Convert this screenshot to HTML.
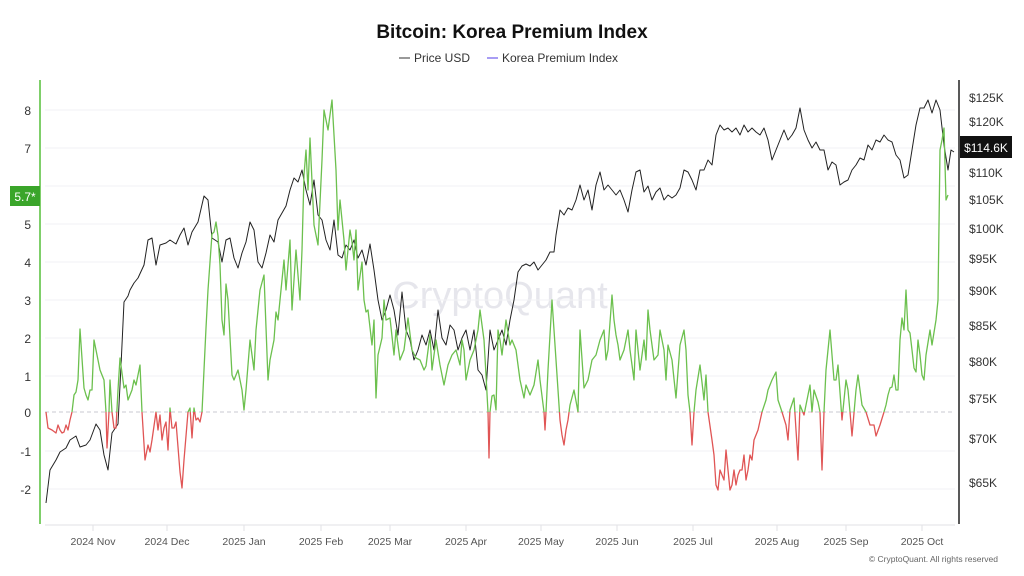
<!DOCTYPE html>
<html><head><meta charset="utf-8"><style>
html,body{margin:0;padding:0;background:#fff;width:1024px;height:576px;overflow:hidden;font-family:"Liberation Sans",sans-serif}
</style></head><body>
<svg width="1024" height="576" viewBox="0 0 1024 576" xmlns="http://www.w3.org/2000/svg" font-family="Liberation Sans, sans-serif">
<defs>
<clipPath id="above"><rect x="40" y="0" width="920" height="412"/></clipPath>
<clipPath id="below"><rect x="40" y="412" width="920" height="120"/></clipPath>
</defs>
<text x="512" y="38" text-anchor="middle" font-size="19" font-weight="bold" fill="#111">Bitcoin: Korea Premium Index</text>
<line x1="399" y1="58" x2="410" y2="58" stroke="#333" stroke-width="1"/>
<text x="414" y="62" font-size="12" fill="#333">Price USD</text>
<line x1="487" y1="58" x2="498" y2="58" stroke="#8a7cf0" stroke-width="1.5"/>
<text x="502" y="62" font-size="12" fill="#333">Korea Premium Index</text>
<text x="500" y="308" text-anchor="middle" font-size="38" fill="#e6e6ec">CryptoQuant</text>
<g stroke="#f1f1f4" stroke-width="1">
<line x1="45" y1="110" x2="955" y2="110"/><line x1="45" y1="148" x2="955" y2="148"/><line x1="45" y1="186" x2="955" y2="186"/><line x1="45" y1="224" x2="955" y2="224"/><line x1="45" y1="262" x2="955" y2="262"/><line x1="45" y1="300" x2="955" y2="300"/><line x1="45" y1="338" x2="955" y2="338"/><line x1="45" y1="376" x2="955" y2="376"/><line x1="45" y1="451" x2="955" y2="451"/><line x1="45" y1="489" x2="955" y2="489"/>
</g>
<line x1="45" y1="412" x2="955" y2="412" stroke="#c8c8d2" stroke-dasharray="4,3" stroke-width="1"/>
<g font-size="12" fill="#333" text-anchor="end">
<text x="31" y="115">8</text><text x="31" y="153">7</text><text x="31" y="229">5</text><text x="31" y="267">4</text><text x="31" y="305">3</text><text x="31" y="343">2</text><text x="31" y="381">1</text><text x="31" y="417">0</text><text x="31" y="456">-1</text><text x="31" y="494">-2</text>
</g>
<g font-size="12" fill="#333">
<text x="969" y="102">$125K</text><text x="969" y="126">$120K</text><text x="969" y="177">$110K</text><text x="969" y="204">$105K</text><text x="969" y="233">$100K</text><text x="969" y="263">$95K</text><text x="969" y="295">$90K</text><text x="969" y="330">$85K</text><text x="969" y="366">$80K</text><text x="969" y="403">$75K</text><text x="969" y="443">$70K</text><text x="969" y="487">$65K</text>
</g>
<line x1="40" y1="80" x2="40" y2="524" stroke="#7fcf6a" stroke-width="2"/>
<line x1="959" y1="80" x2="959" y2="524" stroke="#222" stroke-width="1.5"/>
<line x1="45" y1="525" x2="955" y2="525" stroke="#e2e2e6" stroke-width="1"/>
<g stroke="#e2e2e6"><line x1="93" y1="525" x2="93" y2="531"/><line x1="167" y1="525" x2="167" y2="531"/><line x1="244" y1="525" x2="244" y2="531"/><line x1="321" y1="525" x2="321" y2="531"/><line x1="390" y1="525" x2="390" y2="531"/><line x1="466" y1="525" x2="466" y2="531"/><line x1="541" y1="525" x2="541" y2="531"/><line x1="617" y1="525" x2="617" y2="531"/><line x1="693" y1="525" x2="693" y2="531"/><line x1="777" y1="525" x2="777" y2="531"/><line x1="846" y1="525" x2="846" y2="531"/><line x1="922" y1="525" x2="922" y2="531"/></g>
<g font-size="10.5" fill="#555" text-anchor="middle">
<text x="93" y="545">2024 Nov</text><text x="167" y="545">2024 Dec</text><text x="244" y="545">2025 Jan</text><text x="321" y="545">2025 Feb</text><text x="390" y="545">2025 Mar</text><text x="466" y="545">2025 Apr</text><text x="541" y="545">2025 May</text><text x="617" y="545">2025 Jun</text><text x="693" y="545">2025 Jul</text><text x="777" y="545">2025 Aug</text><text x="846" y="545">2025 Sep</text><text x="922" y="545">2025 Oct</text>
</g>
<text x="998" y="562" text-anchor="end" font-size="8.5" fill="#666">© CryptoQuant. All rights reserved</text>
<polyline fill="none" stroke="#222" stroke-width="1" stroke-linejoin="round" points="46,503 50,470 56,460 60,452 66,448 70,440 76,436 80,447 86,445 90,440 96,424 100,430 104,455 108,470 112,433 118,424 121,366 124,302 128,296 130,290 134,283 138,278 144,265 148,240 152,238 156,265 160,245 166,243 170,240 176,244 180,235 184,228 188,245 192,232 198,222 204,196 208,200 212,238 218,242 222,262 226,240 230,238 234,258 238,268 242,253 246,242 250,222 254,230 258,262 262,268 266,253 270,235 274,242 278,220 282,213 286,206 290,190 294,178 298,182 302,170 306,190 310,205 314,180 318,215 322,220 326,240 330,250 334,220 338,255 342,258 346,245 350,250 354,240 358,258 362,250 366,265 370,244 374,270 378,300 382,320 386,310 390,295 394,310 398,335 402,292 406,330 410,340 414,360 418,350 422,335 426,345 430,330 434,350 438,310 442,338 446,345 450,325 454,330 458,350 462,338 466,330 470,350 474,330 478,370 482,375 486,390 490,330 494,350 498,340 502,330 506,345 510,320 514,300 518,272 522,266 526,264 530,266 534,262 538,270 542,265 546,260 550,252 554,252 556,235 560,210 564,215 568,208 572,210 576,200 580,185 584,200 588,190 592,210 596,185 600,172 604,190 608,185 612,190 616,195 620,190 624,200 628,212 632,190 636,172 640,170 644,192 648,186 652,200 656,192 660,188 664,200 668,195 672,198 676,195 680,188 684,170 688,172 692,180 696,190 700,170 704,170 708,160 712,165 716,135 720,125 724,130 728,128 732,132 736,128 740,135 744,125 748,132 752,128 756,132 760,135 764,128 768,140 772,160 776,150 780,140 784,130 788,140 792,135 796,128 800,108 804,130 808,140 812,148 816,142 820,150 824,150 828,170 832,162 836,165 840,185 844,182 848,180 852,170 856,165 860,158 864,160 868,145 872,150 876,140 880,142 884,135 888,140 892,142 896,155 900,160 904,178 908,175 912,150 916,125 920,108 924,108 928,100 932,113 936,100 940,110 944,145 948,170 951,150 954,152"/>
<g id="prem">
<polyline id="pl" fill="none" stroke-width="1.3" stroke-linejoin="round" points="46,412 48,428 52,430 56,433 58,425 60,430 62,433 64,432 66,425 68,430 70,420 72,412 74,395 76,392 78,380 80,329 84,388 86,395 88,400 90,390 92,390 94,340 98,360 100,370 102,375 104,380 106,412 107,448 109,412 110,380 112,412 114,428 116,428 118,390 120,358 124,388 126,385 128,400 132,390 134,380 136,385 140,365 142,412 145,460 148,445 150,452 152,440 156,412 158,430 160,415 162,440 164,428 166,422 168,450 170,408 172,428 174,428 176,422 180,472 182,488 184,460 188,412 190,408 192,438 194,408 196,420 198,418 200,422 202,412 206,328 208,290 212,234 214,232 216,222 218,236 220,265 222,320 224,335 226,284 228,300 232,375 234,380 238,370 242,390 244,410 246,390 250,340 254,370 256,330 258,310 260,290 264,275 268,380 270,360 274,340 276,312 278,320 280,300 284,260 286,290 290,240 292,310 296,250 300,300 302,250 304,175 306,150 308,190 310,138 314,225 318,245 322,160 324,110 328,130 332,100 336,170 338,230 340,200 344,240 346,270 350,230 352,242 354,260 356,230 358,290 362,262 364,300 366,312 368,310 372,345 374,320 376,398 378,355 382,338 384,300 386,320 390,318 394,355 396,330 400,360 404,350 408,318 412,350 416,358 420,360 424,370 426,366 430,335 432,370 436,340 440,365 444,385 448,365 452,355 456,350 460,365 462,340 464,350 466,380 470,360 474,350 478,330 480,310 484,340 486,375 488,412 489,458 490,412 492,396 494,395 496,410 498,330 500,340 502,355 506,320 510,345 512,340 516,350 520,380 524,398 526,385 530,395 534,385 538,360 540,380 544,412 545,430 546,412 548,370 552,300 556,360 560,420 562,435 564,445 566,430 568,420 570,405 574,390 578,412 580,330 584,388 588,380 592,360 596,355 600,340 604,330 606,360 608,350 612,295 614,320 616,335 618,345 620,360 624,350 626,340 628,330 630,350 634,380 636,330 640,370 644,340 646,360 648,310 650,330 654,360 658,355 660,330 664,350 666,380 668,345 672,360 676,398 680,345 684,330 686,350 688,395 690,412 692,445 694,412 696,390 700,365 704,400 706,375 708,412 712,440 714,455 716,485 718,490 720,470 724,480 726,450 730,490 732,485 734,470 736,485 738,475 740,470 742,470 744,455 746,480 748,470 750,455 752,460 754,440 758,430 762,412 766,400 768,390 772,380 776,372 778,400 782,412 786,425 788,440 790,410 794,398 796,430 798,460 800,405 804,415 806,405 810,385 812,412 814,390 818,402 820,412 822,470 824,412 826,370 830,330 834,380 836,380 838,365 842,420 846,380 848,390 850,412 852,436 856,390 858,375 860,390 862,405 866,412 870,425 874,425 876,436 880,425 884,412 886,405 888,395 890,388 892,387 894,375 896,390 898,390 900,340 902,318 904,330 906,290 908,330 910,333 912,350 914,368 916,372 918,340 920,355 922,375 924,380 926,355 930,330 932,345 936,320 938,300 940,150 942,140 944,128 946,200 948,195"/>
</g>
<use href="#pl" stroke="#6cc04e" clip-path="url(#above)"/>
<use href="#pl" stroke="#e05555" clip-path="url(#below)"/>
<rect x="10" y="186" width="30" height="20" fill="#3aa52a"/>
<text x="25" y="201" text-anchor="middle" font-size="12" fill="#fff">5.7*</text>
<rect x="960" y="136" width="52" height="22" fill="#111"/>
<text x="986" y="152" text-anchor="middle" font-size="12" fill="#fff">$114.6K</text>
</svg>
<style>#prem{display:none}</style>
</body></html>
